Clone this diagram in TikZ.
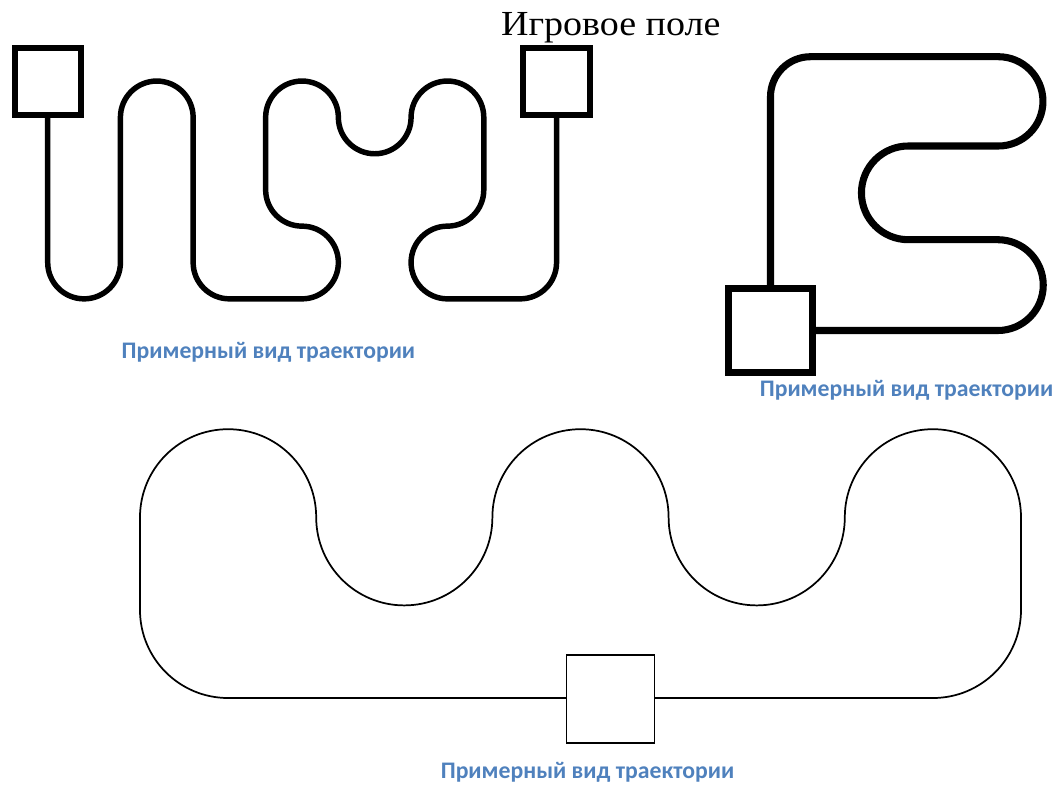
\documentclass[tikz,border=0pt]{standalone}
\usepackage{fontspec}
\setmainfont{Liberation Serif}
\newfontfamily\labelfont{Carlito}
\definecolor{capblue}{RGB}{79,129,189}
\begin{document}
\begin{tikzpicture}[x=0.75pt,y=-0.75pt,
  trackthick/.style={line width=4.1pt,line join=round},
  trackwide/.style={line width=5.3pt,line join=round},
  trackthin/.style={line width=1.3pt,line join=round},
  startbox/.style={draw,fill=white,rectangle,outer sep=0pt,inner sep=0pt},
  caption/.style={anchor=base,text=capblue,font=\labelfont\bfseries\fontsize{17.8}{21}\selectfont}]
\useasboundingbox (0,0) rectangle (1057,785);

% heading
\node[anchor=base,xscale=1.08,font=\fontsize{26.4}{30}\selectfont] (title) at (610.8,35) {Игровое поле};

% ---- upper-left track ----
\node[startbox,line width=4.5pt,minimum width=66.3*0.75pt,minimum height=66.3*0.75pt] (sqA) at (47.7,81.6) {};
\node[startbox,line width=4.5pt,minimum width=66.3*0.75pt,minimum height=66.3*0.75pt] (sqB) at (556.56,81.6) {};
\draw[trackthick] (sqA.south) -- (47.7,262.5)
  arc[start angle=180,end angle=0,radius=36.36] -- (120.42,117.4)
  arc[start angle=180,end angle=360,radius=36.36] -- (193.14,262.5)
  arc[start angle=180,end angle=90,radius=36.36] -- (302,298.86)
  arc[start angle=90,end angle=-90,radius=36.36]
  arc[start angle=90,end angle=180,radius=36.36] -- (265.64,117.4)
  arc[start angle=180,end angle=360,radius=36.36]
  arc[start angle=180,end angle=0,radius=36.36]
  arc[start angle=180,end angle=360,radius=36.36] -- (483.8,189.78)
  arc[start angle=0,end angle=90,radius=36.36]
  arc[start angle=270,end angle=90,radius=36.36] -- (520.2,298.86)
  arc[start angle=90,end angle=0,radius=36.36] -- (sqB.south);
\node[caption] (capA) at (268.4,358) {Примерный вид траектории};

% ---- upper-right track ----
\node[startbox,line width=5.5pt,minimum width=84*0.75pt,minimum height=84*0.75pt] (sqC) at (770.5,330.5) {};
\draw[trackwide] (sqC.north) -- (770.5,96.7)
  arc[start angle=180,end angle=270,radius=40] -- (998.3,56.7)
  arc[start angle=270,end angle=450,radius=44.65] -- (908.3,146)
  arc[start angle=270,end angle=90,radius=46.85] -- (997.85,239.7)
  arc[start angle=270,end angle=450,radius=45.4] -- (sqC.east);
\node[caption] (capB) at (906.5,396) {Примерный вид траектории};

% ---- lower track ----
\draw[trackthin] (610.5,698) -- (228,698)
  arc[start angle=90,end angle=180,radius=88] -- (140,517.3)
  arc[start angle=180,end angle=360,radius=88.1]
  arc[start angle=180,end angle=0,radius=88.1]
  arc[start angle=180,end angle=360,radius=88.1]
  arc[start angle=180,end angle=0,radius=88.1]
  arc[start angle=180,end angle=360,radius=88.1] -- (1021,610)
  arc[start angle=0,end angle=90,radius=88] -- (610.5,698);
\node[startbox,line width=1.4pt,minimum width=88*0.75pt,minimum height=88*0.75pt] (sqD) at (610.5,699) {};
\node[caption] (capC) at (587.5,778) {Примерный вид траектории};
\end{tikzpicture}
\end{document}
